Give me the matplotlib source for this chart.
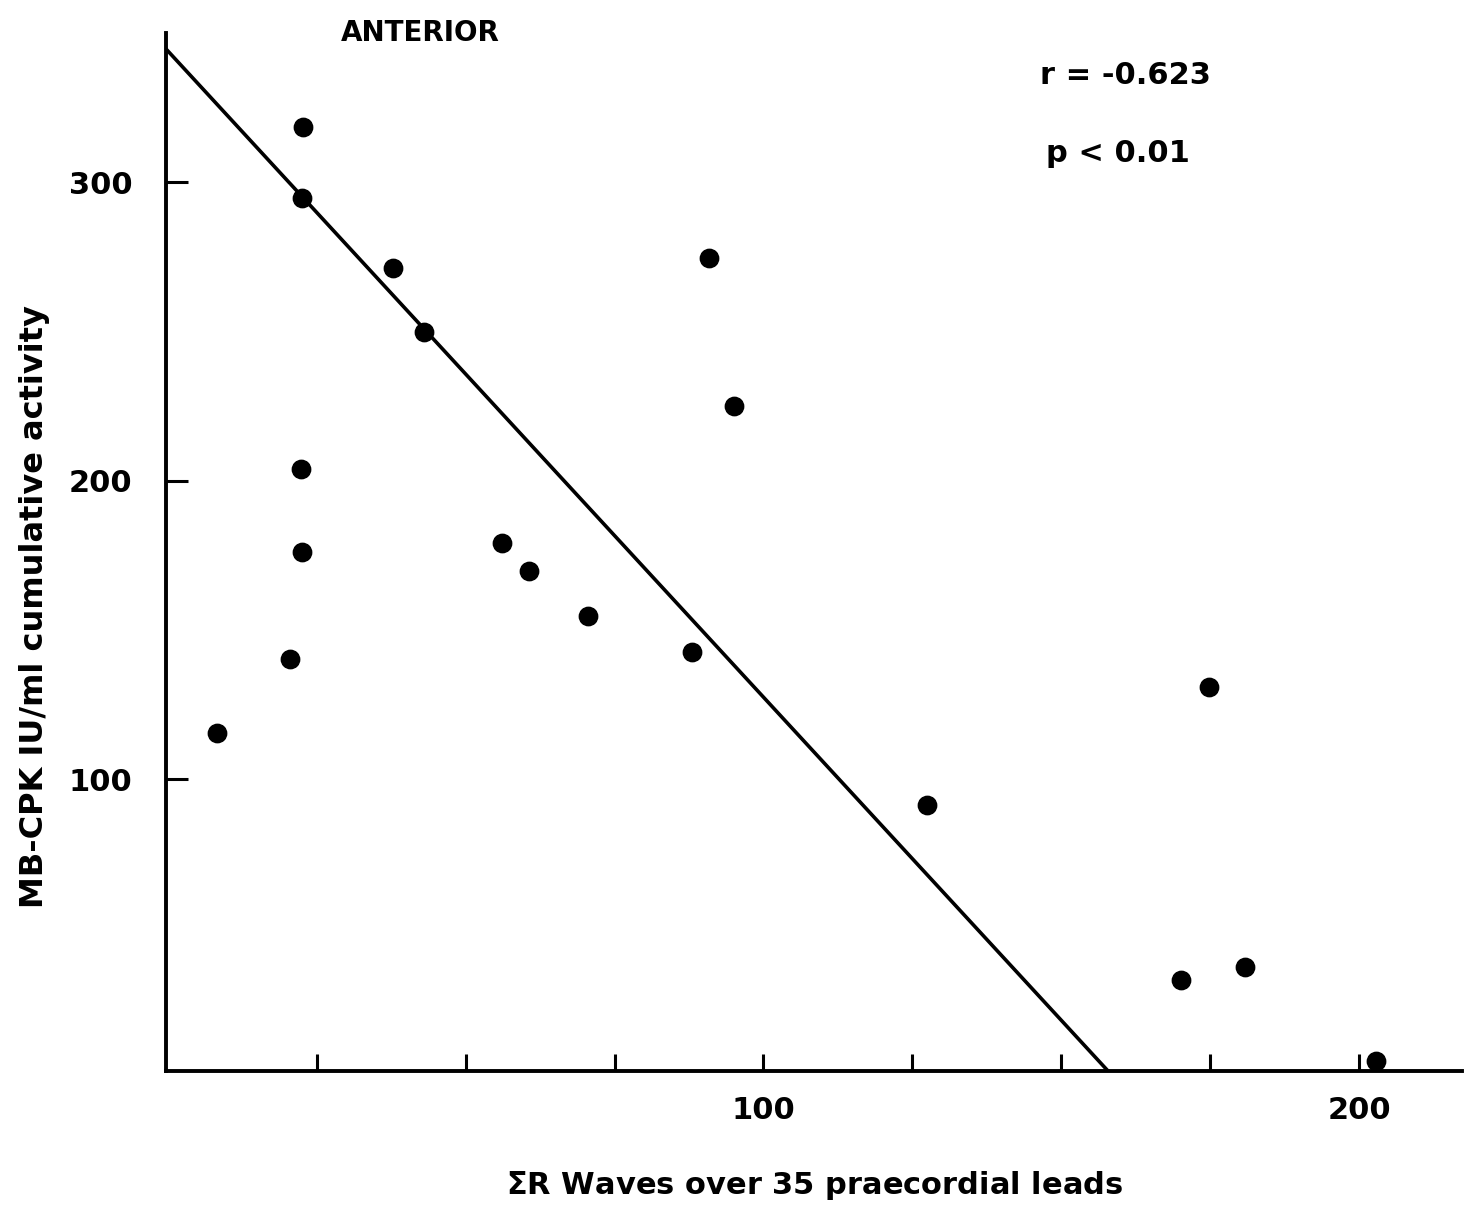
import matplotlib
matplotlib.use('Agg')
import matplotlib.pyplot as plt
from matplotlib.ticker import FixedLocator

plt.rcParams['font.family'] = ['DejaVu Sans']
plt.rcParams['font.weight'] = 'bold'

# sum of R waves vs cumulative MB-CPK
sum_r = [22.7, 22.5, 37.8, 43.0, 90.8, 95.0, 22.3, 22.5, 56.1, 60.6,
         70.5, 20.5, 88.0, 8.2, 127.5, 174.8, 170.1, 180.9, 202.9]
mb_cpk = [318.4, 294.6, 271.2, 249.8, 274.5, 225.0, 203.8, 176.0, 179.1, 169.7,
          154.6, 140.2, 142.5, 115.4, 91.3, 130.8, 32.7, 37.0, 5.5]

# regression line
slope = -2.165
intercept = 344.0

x_ticks = [25, 50, 75, 100, 125, 150, 175, 200]
x_ticklabels = ['', '', '', '100', '', '', '', '200']
y_ticks = [100, 200, 300]

fig = plt.figure(figsize=(14.72, 12.09), dpi=100)
ax = fig.add_axes([0.1128, 0.1141, 0.8804, 0.8586])

xmin, xmax = -0.3, 217.3
ymin, ymax = 2.2, 350

ax.scatter(sum_r, mb_cpk, s=175, color='black', zorder=3)

x_end = (ymin - intercept) / slope
ax.plot([xmin, x_end], [slope * xmin + intercept, ymin], color='black', lw=2.6)

ax.set_xlim(xmin, xmax)
ax.set_ylim(ymin, ymax)

for s in ['top', 'right']:
    ax.spines[s].set_visible(False)
for s in ['left', 'bottom']:
    ax.spines[s].set_linewidth(2.8)

ax.xaxis.set_major_locator(FixedLocator(x_ticks))
ax.set_xticklabels(x_ticklabels)
ax.yaxis.set_major_locator(FixedLocator(y_ticks))
ax.tick_params(axis='x', direction='in', length=12, width=2.2, pad=18, labelsize=22)
ax.tick_params(axis='y', direction='in', length=16, width=2.2, pad=24, labelsize=22)

fig.text(420 / 1472, 1 - 33 / 1209, 'ANTERIOR', fontsize=20, ha='center', va='center')
fig.text(1040 / 1472, 1 - 76 / 1209, 'r = -0.623', fontsize=22, ha='left', va='center')
fig.text(1046 / 1472, 1 - 153 / 1209, 'p < 0.01', fontsize=22, ha='left', va='center')

fig.text(815 / 1472, 1 - 1185 / 1209, r'$\Sigma$R Waves over 35 praecordial leads',
         fontsize=22, ha='center', va='center')
fig.text(35 / 1472, 1 - 607 / 1209, 'MB-CPK IU/ml cumulative activity',
         fontsize=23, ha='center', va='center', rotation=90)

fig.savefig('out.png', dpi=100)
